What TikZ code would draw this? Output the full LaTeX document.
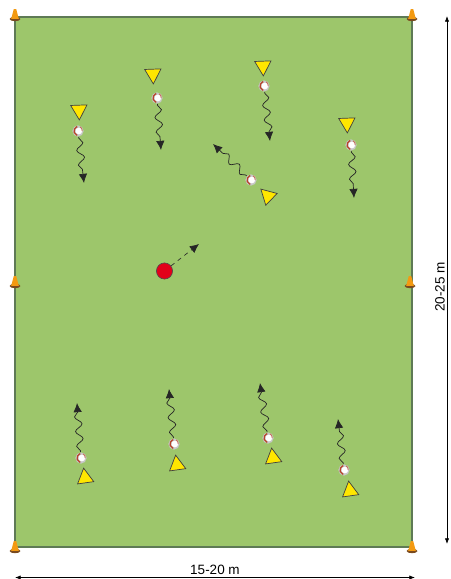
\documentclass[tikz,border=0pt]{standalone}
\usepackage{xcolor}
\usepackage{fontspec}
\setmainfont{Liberation Sans}
\usepackage{tikz}
\usetikzlibrary{arrows.meta,calc,shapes.geometric,decorations.pathmorphing}
\definecolor{fieldgreen}{HTML}{9DC66B}
\definecolor{fieldline}{HTML}{5E7A55}
\definecolor{playeryellow}{HTML}{FFE600}
\definecolor{coneorange}{HTML}{F39A12}
\definecolor{conebrown}{HTML}{7A4A1E}
\definecolor{trainerred}{HTML}{E2001A}
\definecolor{ballred}{HTML}{B8452B}
\tikzset{
  player/.style={isosceles triangle,isosceles triangle apex angle=58,draw=black!75,line width=0.5pt,
    fill=playeryellow,minimum size=10.5pt,inner sep=0pt},
  ball/.style={circle,minimum size=8pt,inner sep=0pt,fill=black!22,
    path picture={
      \fill[white] ($(path picture bounding box.center)+(0.6pt,0)$) circle (2.4pt);
      \draw[ballred,line width=0.9pt] ($(path picture bounding box.center)+(-0.6pt,3.2pt)$)
        arc[start angle=110,end angle=250,radius=3.4pt];
      \draw[ballred!80,line width=0.6pt] ($(path picture bounding box.center)+(1.5pt,3pt)$)
        arc[start angle=60,end angle=-10,radius=3pt];
    }},
  dribble/.style={-{Latex[length=6.5pt,width=6pt]},black!85,line width=0.5pt,
    decorate,decoration={snake,segment length=10.5pt,amplitude=2.5pt,post length=6pt,pre length=1pt}},
  pass/.style={-{Latex[length=6.5pt,width=6pt]},dashed,black!85,line width=0.45pt},
  measure/.style={{Latex[length=4pt,width=3pt]}-{Latex[length=4pt,width=3pt]},black,line width=0.5pt},
  cone/.pic={
    \fill[conebrown] (0,4) ellipse (5.5 and 2.2);
    \fill[coneorange] (-3.8,3.8) -- (-1.2,-6) -- (1.2,-6) -- (3.8,3.8) -- cycle;
  }
}
\begin{document}
\begin{tikzpicture}[x=0.025cm,y=-0.025cm,font=\fontsize{9.6}{11}\selectfont]
\useasboundingbox (0,0) rectangle (451,579);
% field
\draw[fill=fieldgreen,draw=fieldline,line width=0.8pt] (15,17) rectangle (412,547);
\foreach \conex/\coney in {15/15,412/15,15/282,410/282,15/547,412/547}
  \pic at (\conex,\coney) {cone};
% top row
\foreach \name/\px/\py/\bx/\by/\tx/\ty in {a/153/74/157/98/161/150,b/79/110/78/131/84/183,c/263/66/264/86/270/141,d/347/123/351/145/354/198}{
  \node[player,rotate=-88] (p\name) at (\px,\py) {};
  \node[ball] (b\name) at (\bx,\by) {};
  \coordinate (t\name) at (\tx,\ty);
  \draw[dribble] (b\name) -- (t\name);
}
% bottom row
\foreach \name/\px/\py/\bx/\by/\tx/\ty in {e/85/478/81/458/77/403,f/177/465/174/444/169/389,g/273/458/268/438/260/383,h/350/491/344/470/338/419}{
  \node[player,rotate=98] (p\name) at (\px,\py) {};
  \node[ball] (b\name) at (\bx,\by) {};
  \coordinate (t\name) at (\tx,\ty);
  \draw[dribble] (b\name) -- (t\name);
}
% middle player
\node[player,rotate=136] (pm) at (268,196) {};
\node[ball] (bm) at (251,180) {};
\coordinate (tm) at (213,144);
\draw[dribble] (bm) -- (tm);
% trainer
\node[circle,draw=black!70,fill=trainerred,line width=0.4pt,minimum size=11.5pt,inner sep=0pt] (trainer) at (164.5,271) {};
\coordinate (passend) at (199,244);
\draw[pass] (trainer) -- (passend);
% dimensions
\coordinate (dimtop) at (447,16);
\coordinate (dimbot) at (447,544);
\coordinate (dimleft) at (15,577.5);
\coordinate (dimright) at (415,577.5);
\draw[measure] (dimtop) -- (dimbot);
\draw[measure] (dimleft) -- (dimright);
\node[rotate=90,inner sep=0pt] (dimh) at (440,287) {20-25 m};
\node[inner sep=0pt] (dimw) at (215,570) {15-20 m};
\end{tikzpicture}
\end{document}
